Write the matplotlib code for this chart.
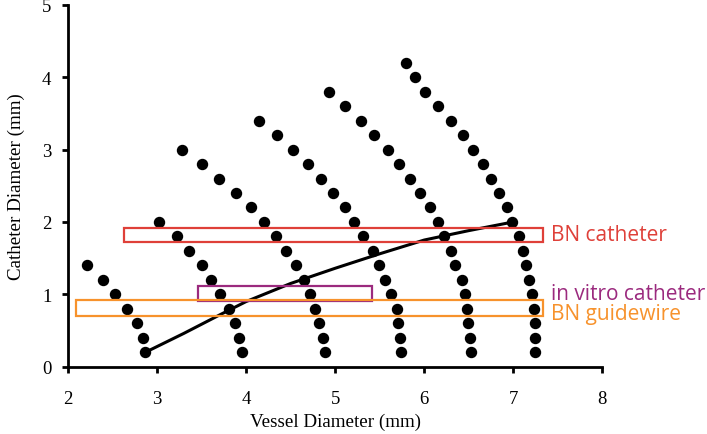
import numpy as np
import matplotlib.pyplot as plt
from matplotlib.patches import Rectangle

# dot curves (vessel diameter, catheter diameter), y step 0.2 from the top down
c1_x = [2.21, 2.39, 2.53, 2.66, 2.77, 2.84, 2.87]
c1_y = [1.4, 1.2, 1.0, 0.8, 0.6, 0.4, 0.2]
c2_x = [3.02, 3.22, 3.36, 3.50, 3.61, 3.71, 3.81, 3.88, 3.915, 3.955]
c2_y = [2.0, 1.8, 1.6, 1.4, 1.2, 1.0, 0.8, 0.6, 0.4, 0.2]
c3_x = [3.285, 3.51, 3.70, 3.89, 4.06, 4.20, 4.34, 4.45, 4.555, 4.65, 4.72, 4.77, 4.82, 4.86, 4.88]
c3_y = [3.0, 2.8, 2.6, 2.4, 2.2, 2.0, 1.8, 1.6, 1.4, 1.2, 1.0, 0.8, 0.6, 0.4, 0.2]
c4_x = [4.15, 4.35, 4.53, 4.70, 4.84, 4.98, 5.11, 5.21, 5.31, 5.42, 5.49, 5.56, 5.63, 5.69, 5.71, 5.73, 5.74]
c4_y = [3.4, 3.2, 3.0, 2.8, 2.6, 2.4, 2.2, 2.0, 1.8, 1.6, 1.4, 1.2, 1.0, 0.8, 0.6, 0.4, 0.2]
c5_x = [4.93, 5.11, 5.29, 5.44, 5.59, 5.72, 5.84, 5.95, 6.06, 6.15, 6.22, 6.30, 6.35, 6.42, 6.46, 6.48, 6.49, 6.51, 6.52]
c5_y = [3.8, 3.6, 3.4, 3.2, 3.0, 2.8, 2.6, 2.4, 2.2, 2.0, 1.8, 1.6, 1.4, 1.2, 1.0, 0.8, 0.6, 0.4, 0.2]
c6_x = [5.79, 5.90, 6.01, 6.15, 6.30, 6.43, 6.55, 6.66, 6.75, 6.84, 6.93, 6.99, 7.06, 7.11, 7.14, 7.18, 7.21, 7.23, 7.24, 7.24, 7.24]
c6_y = [4.2, 4.0, 3.8, 3.6, 3.4, 3.2, 3.0, 2.8, 2.6, 2.4, 2.2, 2.0, 1.8, 1.6, 1.4, 1.2, 1.0, 0.8, 0.6, 0.4, 0.2]

# solid line
line_x = [2.87, 3.3, 3.71, 4.0, 4.5, 5.0, 5.5, 6.0, 6.5, 7.0]
line_y = [0.2, 0.46, 0.72, 0.9, 1.15, 1.36, 1.56, 1.75, 1.88, 2.0]

# boxes: (x0, x1, y0, y1), label, colour
boxes = [
    ((2.63, 7.33, 1.72, 1.92), "BN catheter", "#df4039"),
    ((3.46, 5.41, 0.91, 1.11), "in vitro catheter", "#9b2a7e"),
    ((2.09, 7.33, 0.705, 0.925), "BN guidewire", "#f7922c"),
]
label_y = [1.83, 1.01, 0.74]

fig = plt.figure(figsize=(7.07, 4.35), dpi=100)
ax = fig.add_axes([0.0962, 0.1547, 0.7558, 0.832])

for cx, cy in [(c1_x, c1_y), (c2_x, c2_y), (c3_x, c3_y), (c4_x, c4_y), (c5_x, c5_y), (c6_x, c6_y)]:
    ax.plot(cx, cy, 'o', color='black', markersize=7.2, linestyle='none', zorder=3)

ax.plot(line_x, line_y, color='black', linewidth=2.2, zorder=3)

for (b, lab, col), ly in zip(boxes, label_y):
    x0, x1, y0, y1 = b
    ax.add_patch(Rectangle((x0, y0), x1 - x0, y1 - y0, fill=False, edgecolor=col, linewidth=1.6, zorder=4))
    ax.text(7.42, ly, lab, color=col, fontsize=15, family='Open Sans', va='center', ha='left', clip_on=False)

ax.set_xlim(2, 8)
ax.set_ylim(0, 5)
ax.set_xticks(range(2, 9))
ax.set_yticks(range(0, 6))
for s in ['top', 'right']:
    ax.spines[s].set_visible(False)
for s in ['left', 'bottom']:
    ax.spines[s].set_linewidth(2)
ax.tick_params(direction='out', length=4, width=2, labelsize=13.5)
ax.tick_params(axis='x', pad=13)
ax.tick_params(axis='y', pad=8)
for t in ax.get_xticklabels() + ax.get_yticklabels():
    t.set_family('Liberation Serif')
ax.set_xlabel("Vessel Diameter (mm)", family='Liberation Serif', fontsize=13.7, labelpad=4)
ax.set_ylabel("Catheter Diameter (mm)", family='Liberation Serif', fontsize=13.7, labelpad=12)

fig.savefig("out.png", dpi=100)
